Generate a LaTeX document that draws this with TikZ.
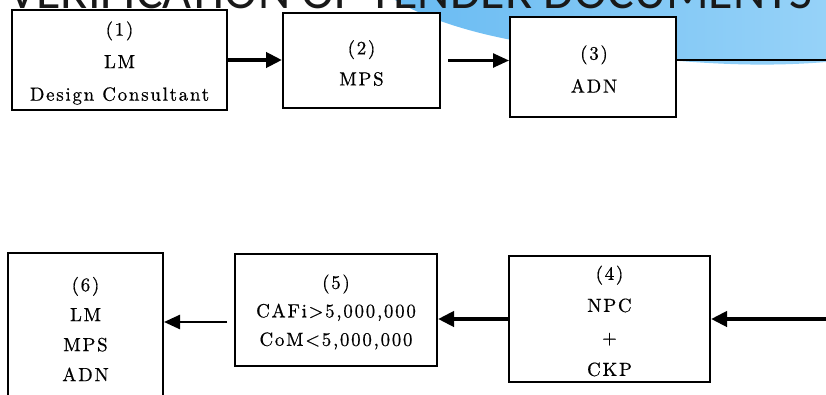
\documentclass[tikz,border=0pt]{standalone}
\usepackage{fontspec}
\newfontfamily\titlefont{Carlito}
\newfontfamily\boxfont{lmroman10-regular}[Extension=.otf,LetterSpace=9,FakeBold=0.6]
\usetikzlibrary{arrows.meta,calc}
\newcommand\lbfont[1]{\boxfont\fontsize{19}{#1}\selectfont}
\definecolor{swooshA}{RGB}{105,187,242}
\definecolor{swooshB}{RGB}{150,210,248}
\begin{document}
\begin{tikzpicture}[x=1pt,y=-1pt,
  frame/.style={draw=black,line width=2pt,fill=white,inner sep=0pt},
  lbl/.style={align=center,inner sep=0pt},
  thickarrow/.style={line width=4pt,-{Triangle[length=16pt,width=15pt]}},
  thinarrow/.style={line width=2.5pt,-{Triangle[length=16pt,width=14pt]}},
  plainline/.style={line width=2.5pt}
]
\useasboundingbox (0,0) rectangle (826,394);
\clip (0,0) rectangle (826,394);
% background swoosh
\shade[left color=swooshA,right color=swooshB]
  (395,0) .. controls (425,18) and (470,34) .. (540,45)
  .. controls (640,58) and (730,70) .. (826,62) -- (826,0) -- cycle;
% title (cut by the top edge)
\node[anchor=base west,inner sep=0pt,text=black!90,font=\titlefont\fontsize{50}{50}\selectfont] (title) at (8,8) {VERIFICATION OF TENDER DOCUMENTS};
% frames
\node[frame,minimum width=215pt,minimum height=100pt] (b1) at (119.5,60) {};
\node[frame,minimum width=157pt,minimum height=95pt] (b2) at (361.5,60.5) {};
\node[frame,minimum width=166pt,minimum height=100pt] (b3) at (593,67) {};
\node[frame,minimum width=201pt,minimum height=126pt] (b4) at (609.5,319) {};
\node[frame,minimum width=202pt,minimum height=112pt] (b5) at (336,310) {};
\node[frame,minimum width=155pt,minimum height=170pt] (b6) at (85.5,338) {};
% texts
\node[lbl,font={\lbfont{32.5}}] (t1) at (119.5,63) {(1)\\LM\\Design Consultant};
\node[lbl,font={\lbfont{31}}] (t2) at (361.5,63) {(2)\\MPS};
\node[lbl,font={\lbfont{33}}] (t3) at (594,69) {(3)\\ADN};
\node[lbl,font={\lbfont{32}}] (t4) at (609.5,321) {(4)\\NPC\\+\\CKP};
\node[lbl,font={\lbfont{28.5}}] (t5) at (336,312) {(5)\\CAFi>5,000,000\\CoM<5,000,000};
\node[lbl,font={\lbfont{30}}] (t6) at (85.5,329) {(6)\\LM\\MPS\\ADN};
% connectors
\coordinate (e3) at (826,60);
\coordinate (e4) at (826,319);
\draw[thickarrow] (b1.east) -- (b1.east -| b2.west);
\draw[thinarrow] ([xshift=7pt]b2.east) -- (b2.east -| b3.west);
\draw[plainline] (e3 -| b3.east) -- (e3);
\draw[thickarrow] (e4) -- (e4 -| b4.east);
\draw[thickarrow] (b4.west) -- (b4.west -| b5.east);
\draw[thinarrow] ($(b5.west)+(-7,12)$) -- ($(b6.east |- b5.west)+(0,12)$);
\end{tikzpicture}
\end{document}
